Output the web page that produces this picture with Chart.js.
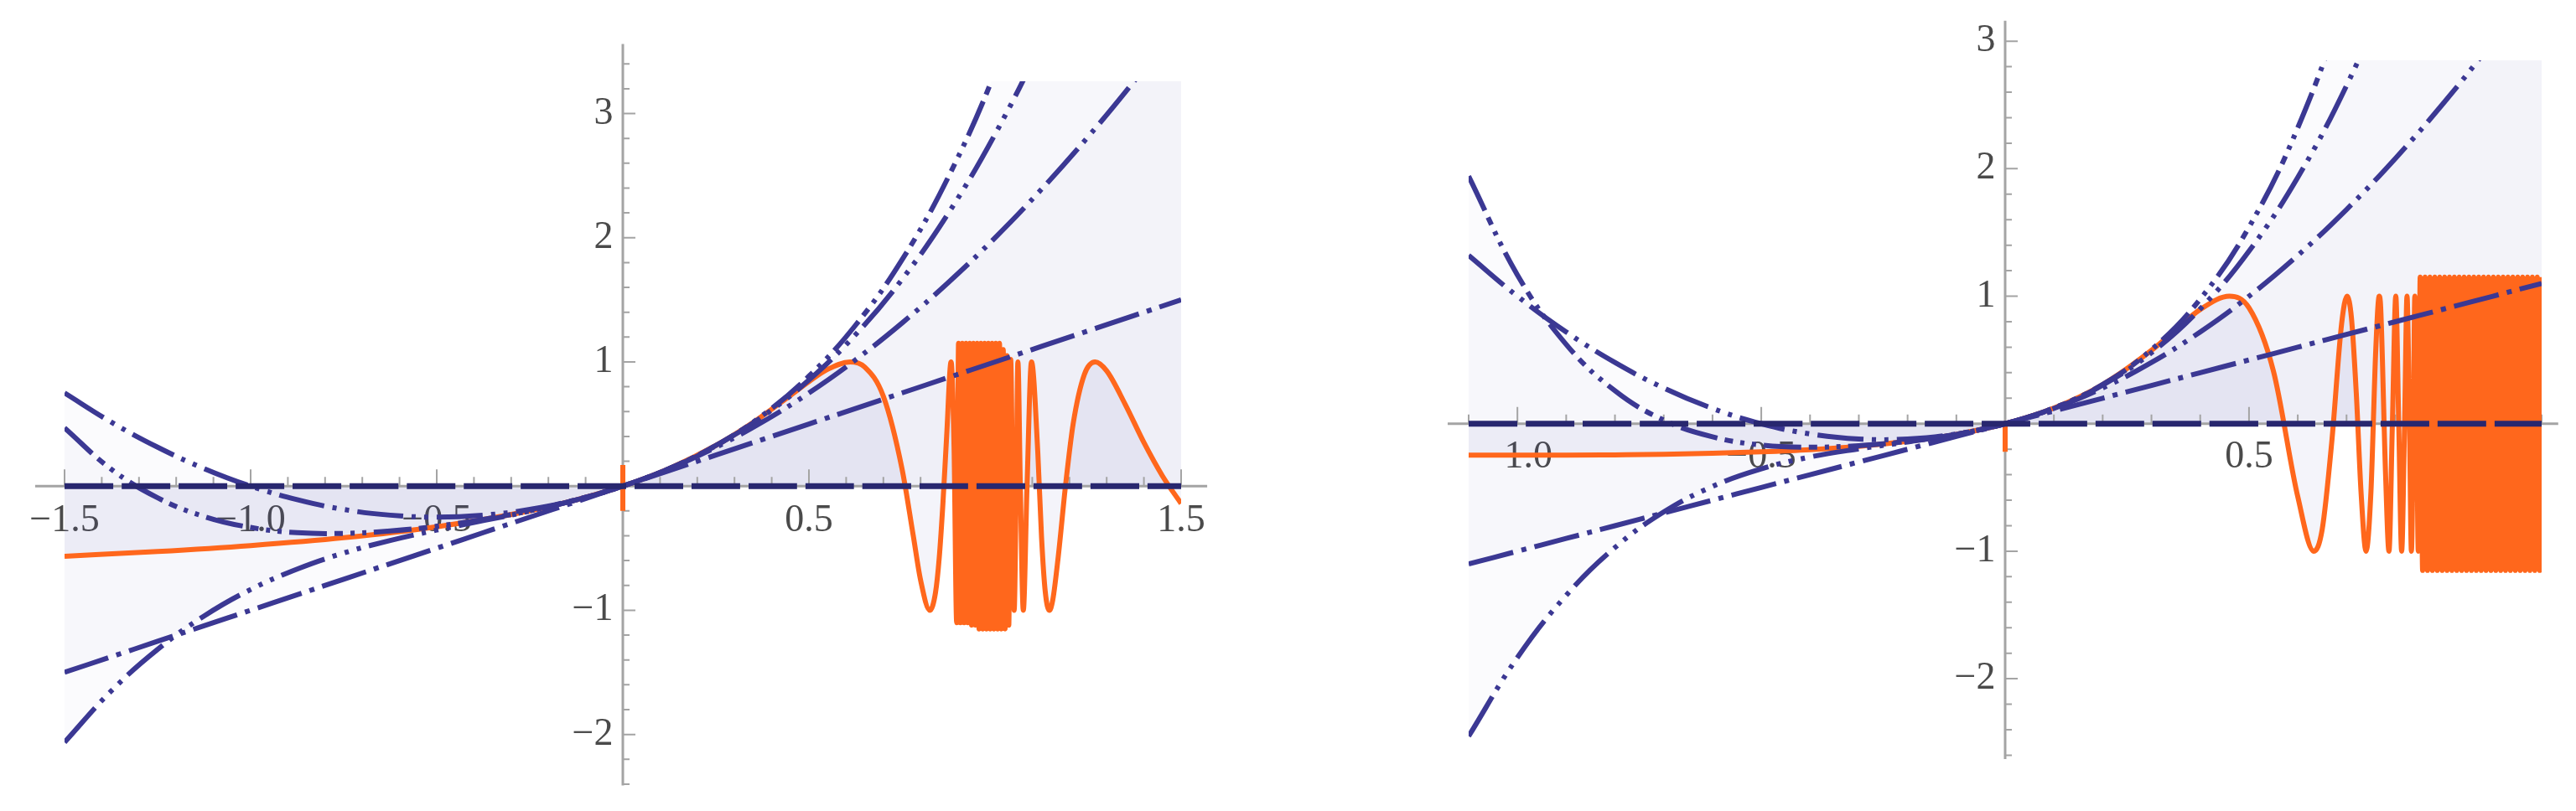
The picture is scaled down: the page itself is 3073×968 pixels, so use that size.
<!DOCTYPE html>
<html>
<head>
<meta charset="utf-8">
<script src="https://cdn.jsdelivr.net/npm/chart.js@4.4.1/dist/chart.umd.min.js"></script>
<style>
  html, body { margin: 0; padding: 0; background: #fff; }
  #wrap { position: relative; width: 3073px; height: 968px; }
  .panel { position: absolute; top: 0; height: 968px; }
  #left { left: 0; width: 1530px; }
  #right { left: 1530px; width: 1543px; }
</style>
</head>
<body>
<div id="wrap">
  <div class="panel" id="left"><canvas id="leftChart"></canvas></div>
  <div class="panel" id="right"><canvas id="rightChart"></canvas></div>
</div>
<script>
// left panel: function (orange) and its Taylor polynomials of order 0..4
var leftXLabels = [-1.5, -1, -0.5, 0.5, 1, 1.5];
var leftYLabels = [-2, -1, 1, 2, 3];
var leftEnds = [-1.5, 1.5];
var leftT0 = [0, 0];
var leftX = [-1.5, -1.375, -1.25, -1.125, -1, -0.875, -0.75, -0.625, -0.5, -0.375, -0.25, -0.125, 0,
             0.125, 0.25, 0.375, 0.5, 0.625, 0.75, 0.875, 1, 1.125, 1.25, 1.375, 1.5];
var leftT1 = [-1.5, -1.375, -1.25, -1.125, -1, -0.875, -0.75, -0.625, -0.5, -0.375, -0.25, -0.125, 0,
              0.125, 0.25, 0.375, 0.5, 0.625, 0.75, 0.875, 1, 1.125, 1.25, 1.375, 1.5];
var leftT2 = [0.75, 0.516, 0.313, 0.141, 0, -0.109, -0.188, -0.234, -0.25, -0.234, -0.188, -0.109, 0,
              0.141, 0.313, 0.516, 0.75, 1.016, 1.313, 1.641, 2, 2.391, 2.813, 3.266, 3.75];
var leftT3 = [-2.063, -1.651, -1.315, -1.046, -0.833, -0.668, -0.539, -0.438, -0.354, -0.278, -0.201, -0.111, 0,
              0.142, 0.326, 0.56, 0.854, 1.219, 1.664, 2.199, 2.833, 3.577, 4.44, 5.432, 6.563];
var leftT4 = [0.469, 0.137, -0.094, -0.245, -0.333, -0.375, -0.381, -0.362, -0.323, -0.268, -0.199, -0.111, 0,
              0.142, 0.327, 0.569, 0.885, 1.295, 1.822, 2.492, 3.333, 4.378, 5.661, 7.219, 9.094];
var leftTick = [[0, 0.17], [0, -0.2]];
var leftF = [
  [-1.5, -0.565], [-1.25, -0.527], [-1.0, -0.479], [-0.75, -0.416], [-0.5, -0.327], [-0.25, -0.199],
  [-0.125, -0.111], [0, 0], [0.125, 0.142], [0.25, 0.327], [0.35, 0.513], [0.45, 0.73], [0.5, 0.841],
  [0.55, 0.94], [0.611, 1.0], [0.65, 0.959], [0.7, 0.723], [0.75, 0.141], [0.78, -0.393], [0.8, -0.757],
  [0.825, -1.0], [0.84, -0.859], [0.85, -0.581], [0.86, -0.14], [0.87, 0.401], [0.882, 1.0], [0.89, 0.3],
  [0.897, -1.1], [0.902, 1.15], [0.907, -1.1], [0.912, 1.15], [0.917, -1.1], [0.922, 1.15], [0.927, -1.1],
  [0.932, 1.15], [0.937, -1.12], [0.942, 1.15], [0.947, -1.12], [0.952, 1.15], [0.957, -1.15], [0.962, 1.15],
  [0.967, -1.15], [0.972, 1.15], [0.977, -1.15], [0.982, 1.15], [0.987, -1.15], [0.992, 1.15], [0.997, -1.15],
  [1.002, 1.15], [1.007, -1.15], [1.012, 1.15], [1.017, -1.15], [1.022, 1.1], [1.027, -1.15], [1.032, 1.05],
  [1.037, -1.12], [1.042, 1.02], [1.0514, -1.0], [1.057, 0], [1.0615, 1.0], [1.068, 0], [1.076, -1.0],
  [1.086, 0], [1.098, 1.0], [1.115, 0.267], [1.125, -0.412], [1.135, -0.851], [1.146, -1.0], [1.155, -0.92],
  [1.17, -0.564], [1.19, 0.02], [1.21, 0.503], [1.24, 0.899], [1.269, 1.0], [1.3, 0.928], [1.35, 0.657],
  [1.4, 0.351], [1.45, 0.081], [1.5, -0.141]
];

// right panel
var rightXLabels = [-1, -0.5, 0.5, 1];
var rightYLabels = [-2, -1, 1, 2, 3];
var rightEnds = [-1.1, 1.1];
var rightT0 = [0, 0];
var rightX = [-1.1, -1, -0.9, -0.8, -0.7, -0.6, -0.5, -0.4, -0.3, -0.2, -0.1, 0,
              0.1, 0.2, 0.3, 0.4, 0.5, 0.6, 0.7, 0.8, 0.9, 1, 1.1];
var rightT1 = [-1.1, -1, -0.9, -0.8, -0.7, -0.6, -0.5, -0.4, -0.3, -0.2, -0.1, 0,
               0.1, 0.2, 0.3, 0.4, 0.5, 0.6, 0.7, 0.8, 0.9, 1, 1.1];
var rightT2 = [1.32, 1, 0.72, 0.48, 0.28, 0.12, 0, -0.08, -0.12, -0.12, -0.08, 0,
               0.12, 0.28, 0.48, 0.72, 1, 1.32, 1.68, 2.08, 2.52, 3, 3.52];
var rightT3 = [-2.451, -1.833, -1.346, -0.971, -0.692, -0.492, -0.354, -0.261, -0.197, -0.143, -0.083, 0,
               0.123, 0.303, 0.557, 0.901, 1.354, 1.932, 2.652, 3.531, 4.586, 5.833, 7.291];
var rightT4 = [1.941, 1.167, 0.622, 0.258, 0.028, -0.103, -0.167, -0.184, -0.172, -0.138, -0.083, 0,
               0.123, 0.308, 0.581, 0.978, 1.542, 2.321, 3.372, 4.76, 6.554, 8.833, 11.683];
var rightTick = [[0, 0], [0, -0.22]];
var rightF = [
  [-1.1, -0.247], [-1.0, -0.247], [-0.9, -0.247], [-0.8, -0.244], [-0.7, -0.24], [-0.6, -0.232],
  [-0.5, -0.22], [-0.4, -0.203], [-0.3, -0.177], [-0.2, -0.138], [-0.1, -0.083], [0, 0], [0.1, 0.123],
  [0.2, 0.307], [0.3, 0.575], [0.35, 0.737], [0.4, 0.896], [0.46, 1.0], [0.5, 0.909], [0.55, 0.414],
  [0.6, -0.572], [0.633, -1.0], [0.65, -0.831], [0.67, -0.131], [0.69, 0.788], [0.701, 1.0], [0.71, 0.832],
  [0.72, 0.238], [0.73, -0.554], [0.74, -1.0], [0.75, -0.537], [0.76, 0.587], [0.767, 1.0], [0.77, 0.913],
  [0.78, -0.395], [0.787, -1.0], [0.794, 0], [0.801, 1.0], [0.807, 0], [0.813, -1.0], [0.819, 0],
  [0.824, 1.0], [0.829, 0], [0.833, -1.0], [0.837, 0], [0.84, 1.0], [0.844, 0], [0.847, -1.0],
  [0.851, 1.15], [0.856, -1.15], [0.861, 1.15], [0.866, -1.15], [0.871, 1.15], [0.876, -1.15], [0.881, 1.15],
  [0.886, -1.15], [0.891, 1.15], [0.896, -1.15], [0.901, 1.15], [0.906, -1.15], [0.911, 1.15], [0.916, -1.15],
  [0.921, 1.15], [0.926, -1.15], [0.931, 1.15], [0.936, -1.15], [0.941, 1.15], [0.946, -1.15], [0.951, 1.15],
  [0.956, -1.15], [0.961, 1.15], [0.966, -1.15], [0.971, 1.15], [0.976, -1.15], [0.981, 1.15], [0.986, -1.15],
  [0.991, 1.15], [0.996, -1.15], [1.001, 1.15], [1.006, -1.15], [1.011, 1.15], [1.016, -1.15], [1.021, 1.15],
  [1.026, -1.15], [1.031, 1.15], [1.036, -1.15], [1.041, 1.15], [1.046, -1.15], [1.051, 1.15], [1.056, -1.15],
  [1.061, 1.15], [1.066, -1.15], [1.071, 1.15], [1.076, -1.15], [1.081, 1.15], [1.086, -1.15], [1.091, 1.15],
  [1.096, -1.15], [1.1, 1.15]
];

var BLUE = '#3b3893';
var NAVY = '#28276f';
var ORANGE = '#ff671c';
var FILL = 'rgba(70, 70, 165, 0.024)';
var FILL_F = 'rgba(70, 70, 165, 0.06)';

Chart.defaults.font.family = '"Liberation Serif", "DejaVu Serif", serif';

function pts(xs, ys) {
  return xs.map(function (x, i) { return { x: x, y: ys[i] }; });
}
function pairs(list) {
  return list.map(function (p) { return { x: p[0], y: p[1] }; });
}

function series(data, dash, color, width, fill) {
  return {
    data: data,
    borderColor: color,
    borderWidth: width,
    borderDash: dash,
    borderCapStyle: 'butt',
    fill: fill ? 'origin' : false,
    backgroundColor: FILL,
    pointRadius: 0,
    tension: 0.4
  };
}

function fnSeries(data) {
  return {
    data: data,
    borderColor: ORANGE,
    borderWidth: 6,
    borderJoinStyle: 'round',
    fill: 'origin',
    backgroundColor: FILL_F,
    pointRadius: 0,
    cubicInterpolationMode: 'monotone'
  };
}

function tickSeries(data) {
  return { data: data, borderColor: ORANGE, borderWidth: 6, pointRadius: 0, fill: false, tension: 0 };
}

// Mathematica style axes through the origin, with minor ticks
var axesPlugin = {
  id: 'mmaAxes',
  beforeDatasetsDraw: function (chart, args, o) {
    var ctx = chart.ctx, xs = chart.scales.x, ys = chart.scales.y;
    var px0 = xs.getPixelForValue(0), py0 = ys.getPixelForValue(0);
    ctx.save();
    ctx.strokeStyle = '#a4a4a4';
    ctx.lineWidth = 3;
    ctx.beginPath();
    ctx.moveTo(xs.getPixelForValue(o.xRange[0]), py0);
    ctx.lineTo(xs.getPixelForValue(o.xRange[1]), py0);
    ctx.moveTo(px0, ys.getPixelForValue(o.yRange[0]));
    ctx.lineTo(px0, ys.getPixelForValue(o.yRange[1]));
    ctx.stroke();
    ctx.lineWidth = 2;
    ctx.beginPath();
    for (var i = o.xTicks[0]; i <= o.xTicks[1]; i++) {
      if (i === 0) continue;
      var px = xs.getPixelForValue(i / 10);
      var len = i % 5 === 0 ? 20 : 11;
      ctx.moveTo(px, py0);
      ctx.lineTo(px, py0 - len);
    }
    for (var j = o.yTicks[0]; j <= o.yTicks[1]; j++) {
      if (j === 0) continue;
      var py = ys.getPixelForValue(j / 5);
      var len2 = j % 5 === 0 ? 15 : 8;
      ctx.moveTo(px0, py);
      ctx.lineTo(px0 + len2, py);
    }
    ctx.stroke();
    ctx.restore();
  }
};

function fmtX(v) {
  if (Math.abs(v) < 1e-9) return '';
  var s = Math.abs(v).toFixed(1);
  return v < 0 ? '\u2212' + s : s;
}
// trailing space keeps the label clear of the axis line
function fmtY(v) {
  if (Math.abs(v) < 1e-9) return '';
  return (v < 0 ? '\u2212' + Math.abs(v) : String(v)) + ' ';
}

function options(c) {
  return {
    responsive: true,
    maintainAspectRatio: false,
    animation: false,
    events: [],
    layout: { padding: c.pad },
    elements: { line: { capBezierPoints: false } },
    plugins: {
      legend: { display: false },
      tooltip: { enabled: false },
      filler: { drawTime: 'beforeDatasetsDraw' },
      mmaAxes: c.axes
    },
    scales: {
      x: {
        type: 'linear',
        min: c.x[0], max: c.x[1],
        position: { y: 0 },
        grid: { display: false, drawTicks: false },
        border: { display: false },
        ticks: {
          autoSkip: false, maxRotation: 0,
          padding: c.xPad, color: '#4a4a4a', font: { size: 46 }, callback: fmtX
        },
        afterBuildTicks: function (s) {
          s.ticks = c.xLabels.map(function (v) { return { value: v }; });
        },
        afterFit: function (s) { s.height = 0; }
      },
      y: {
        type: 'linear',
        min: c.y[0], max: c.y[1],
        position: { x: 0 },
        grid: { display: false, drawTicks: false },
        border: { display: false },
        ticks: {
          autoSkip: false, color: '#4a4a4a', font: { size: 46 }, callback: fmtY
        },
        afterBuildTicks: function (s) {
          s.ticks = c.yLabels.map(function (v) { return { value: v }; });
        },
        afterFit: function (s) { s.width = 0; }
      }
    }
  };
}

new Chart(document.getElementById('leftChart'), {
  type: 'line',
  data: {
    datasets: [
      series(pts(leftEnds, leftT0), [58, 10], NAVY, 7, false),
      series(pts(leftX, leftT1), [55, 10, 6, 10], BLUE, 6, true),
      series(pts(leftX, leftT2), [55, 10, 5, 10, 5, 10], BLUE, 6, true),
      series(pts(leftX, leftT3), [55, 10, 5, 10, 5, 10, 5, 10], BLUE, 6, true),
      series(pts(leftX, leftT4), [45, 9, 10, 9, 5, 9, 5, 9], BLUE, 6, true),
      tickSeries(pairs(leftTick)),
      fnSeries(pairs(leftF))
    ]
  },
  options: options({
    pad: { left: 77, right: 121, top: 97, bottom: 28 },
    x: [-1.5, 1.5],
    y: [-2.41, 3.26],
    xLabels: leftXLabels,
    yLabels: leftYLabels,
    xPad: 14,
    axes: { xRange: [-1.579, 1.57], yRange: [-2.41, 3.56], xTicks: [-15, 15], yTicks: [-12, 17] }
  }),
  plugins: [axesPlugin]
});

new Chart(document.getElementById('rightChart'), {
  type: 'line',
  data: {
    datasets: [
      series(pts(rightEnds, rightT0), [58, 10], NAVY, 7, false),
      series(pts(rightX, rightT1), [55, 10, 6, 10], BLUE, 6, true),
      series(pts(rightX, rightT2), [55, 10, 5, 10, 5, 10], BLUE, 6, true),
      series(pts(rightX, rightT3), [55, 10, 5, 10, 5, 10, 5, 10], BLUE, 6, true),
      series(pts(rightX, rightT4), [45, 9, 10, 9, 5, 9, 5, 9], BLUE, 6, true),
      tickSeries(pairs(rightTick)),
      fnSeries(pairs(rightF))
    ]
  },
  options: options({
    pad: { left: 222, right: 41, top: 72, bottom: 62 },
    x: [-1.1, 1.1],
    y: [-2.63, 2.85],
    xLabels: rightXLabels,
    yLabels: rightYLabels,
    xPad: 13,
    axes: { xRange: [-1.143, 1.134], yRange: [-2.63, 3.16], xTicks: [-11, 11], yTicks: [-13, 15] }
  }),
  plugins: [axesPlugin]
});
</script>
</body>
</html>
